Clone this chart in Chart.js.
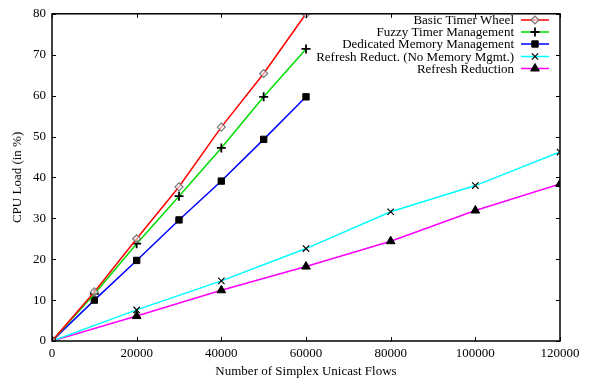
<!DOCTYPE html>
<html><head><meta charset="utf-8">
<script src="https://cdn.jsdelivr.net/npm/chart.js@4/dist/chart.umd.min.js"></script>
<style>html,body{margin:0;padding:0;background:#fff}#wrap{width:590px;height:379px}</style>
</head><body><div id="wrap"><canvas id="c" width="590" height="379"></canvas></div>
<script>
const seriesNames = ["Basic Timer Wheel","Fuzzy Timer Management","Dedicated Memory Management","Refresh Reduct. (No Memory Mgmt.)","Refresh Reduction"];
const flowsShort = [0,10000,20000,30000,40000,50000,60000];
const flowsLong = [0,20000,40000,60000,80000,100000,120000];
const basicTimerWheel = [0,12,25,37.7,52.3,65.4,80];
const fuzzyTimer = [0,11.5,23.8,35.4,47.2,59.7,71.4];
const dedicatedMemory = [0,10,19.7,29.6,39.1,49.3,59.7];
const refreshNoMem = [0,7.6,14.7,22.6,31.6,38,46.2];
const refreshReduction = [0,6.1,12.4,18.2,24.4,31.9,38.4];
const xTicks = [0,20000,40000,60000,80000,100000,120000];
const yTicks = [0,10,20,30,40,50,60,70,80];

const FONT = "'Liberation Serif','Times New Roman',serif";
const pts = (xs, ys) => xs.map((x,i)=>({x:x,y:ys[i]}));

const styles = [
  {color:'#ff0000', ps:'rectRot', r:4, bg:'rgba(255,255,255,0.6)', bc:'#777777', bw:1.2},
  {color:'#00dd00', ps:'cross', r:4.5, bg:'#000', bc:'#000', bw:1.8},
  {color:'#0000ff', ps:'rect', r:4.5, bg:'#000', bc:'#000', bw:1},
  {color:'#00ffff', ps:'crossRot', r:4.5, bg:'#000', bc:'#000', bw:1.2},
  {color:'#ff00ff', ps:'triangle', r:5, bg:'#000', bc:'#000', bw:1}
];
const dataSets = [pts(flowsShort,basicTimerWheel),pts(flowsShort,fuzzyTimer),pts(flowsShort,dedicatedMemory),pts(flowsLong,refreshNoMem),pts(flowsLong,refreshReduction)];

const datasets = dataSets.map((d,i)=>({
  label: seriesNames[i], data: d, borderColor: styles[i].color, borderWidth: 1.5,
  pointStyle: styles[i].ps, pointRadius: styles[i].r, pointBackgroundColor: styles[i].bg,
  pointBorderColor: styles[i].bc, pointBorderWidth: styles[i].bw, showLine: true, tension: 0
}));

const framePlugin = {
  id:'frame',
  afterDraw(chart){
    const ctx = chart.ctx, a = chart.chartArea, xs = chart.scales.x, ys = chart.scales.y;
    ctx.save();
    ctx.strokeStyle='#000'; ctx.lineWidth=1.5;
    ctx.strokeRect(a.left, a.top, a.right-a.left, a.bottom-a.top);
    ctx.lineWidth=1;
    const L=4;
    xTicks.forEach(v=>{const p=Math.round(xs.getPixelForValue(v))+0.5;
      ctx.beginPath();ctx.moveTo(p,a.bottom);ctx.lineTo(p,a.bottom-L);ctx.moveTo(p,a.top);ctx.lineTo(p,a.top+L);ctx.stroke();});
    yTicks.forEach(v=>{const p=Math.round(ys.getPixelForValue(v))+0.5;
      ctx.beginPath();ctx.moveTo(a.left,p);ctx.lineTo(a.left+L,p);ctx.moveTo(a.right,p);ctx.lineTo(a.right-L,p);ctx.stroke();});
    // legend
    ctx.font = '13px ' + FONT; ctx.textAlign='right'; ctx.textBaseline='middle';
    const rows=[20,32,44,56.5,68.5];
    chart.data.datasets.forEach((ds,i)=>{
      const y=rows[i];
      ctx.fillStyle='#000';
      ctx.fillText(ds.label, 514, y+1);
      ctx.strokeStyle=ds.borderColor; ctx.lineWidth=1.5;
      ctx.beginPath();ctx.moveTo(521,y);ctx.lineTo(549,y);ctx.stroke();
      ctx.fillStyle=ds.pointBackgroundColor; ctx.strokeStyle=ds.pointBorderColor; ctx.lineWidth=ds.pointBorderWidth;
      Chart.helpers.drawPoint(ctx,{pointStyle:ds.pointStyle,radius:ds.pointRadius,borderWidth:ds.pointBorderWidth},535,y);
    });
    ctx.restore();
  }
};

new Chart(document.getElementById('c'), {
  type:'scatter',
  data:{datasets},
  options:{
    responsive:false, animation:false, devicePixelRatio:1,
    layout:{padding:{top:12,right:30,left:0,bottom:0}},
    plugins:{legend:{display:false},tooltip:{enabled:false}},
    elements:{line:{fill:false}},
    scales:{
      x:{type:'linear',min:0,max:120000,
        afterBuildTicks:s=>{s.ticks=xTicks.map(v=>({value:v}));},
        afterFit:s=>{s.height=38;},
        grid:{display:false,drawTicks:false},border:{display:false},
        ticks:{color:'#000',font:{family:FONT,size:13},padding:5,maxRotation:0,autoSkip:false,callback:v=>String(v)},
        title:{display:true,text:'Number of Simplex Unicast Flows',color:'#000',font:{family:FONT,size:13},padding:{top:0,bottom:0}}
      },
      y:{type:'linear',min:0,max:80,
        afterBuildTicks:s=>{s.ticks=yTicks.map(v=>({value:v}));},
        afterFit:s=>{s.width=52;},
        grid:{display:false,drawTicks:false},border:{display:false},
        ticks:{color:'#000',font:{family:FONT,size:13},padding:6,autoSkip:false,callback:v=>String(v)},
        title:{display:true,text:'CPU Load (in %)',color:'#000',font:{family:FONT,size:13},padding:{top:10,bottom:0}}
      }
    }
  },
  plugins:[framePlugin]
});
</script></body></html>
